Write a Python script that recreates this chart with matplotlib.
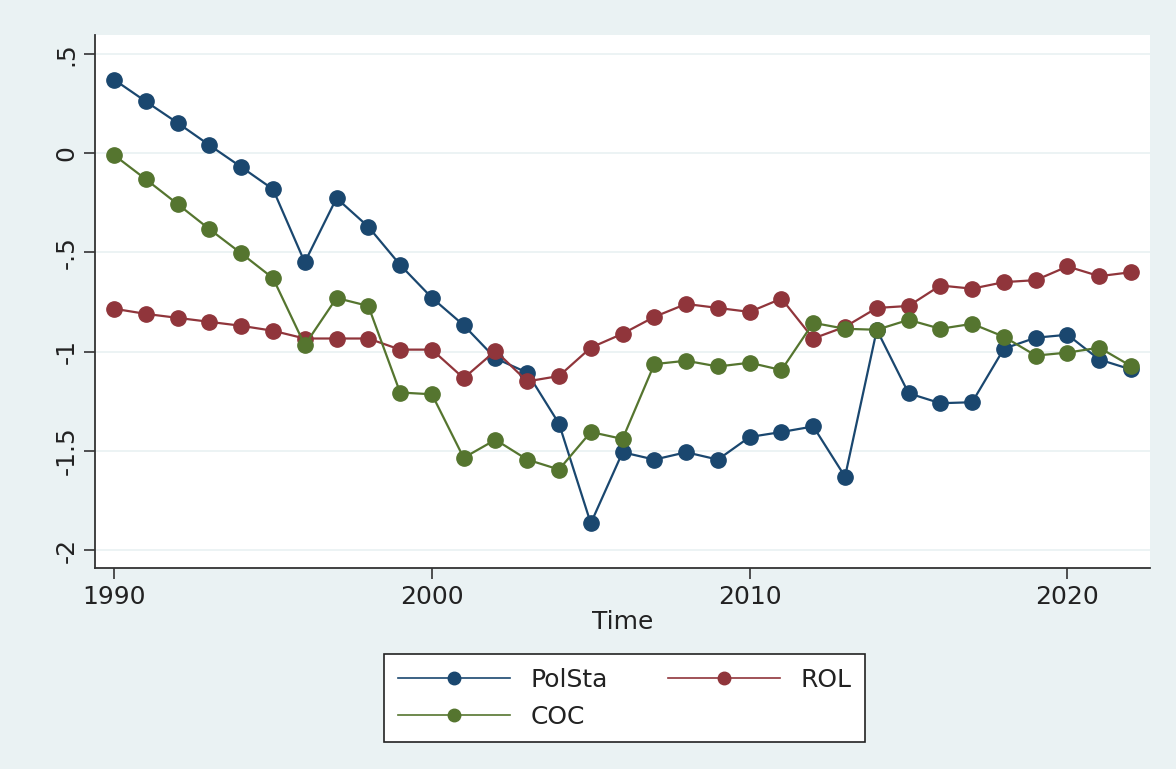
import matplotlib.pyplot as plt

# Years and series values
years = list(range(1990, 2023))

polsta = [0.37, 0.26, 0.152, 0.04, -0.07, -0.182, -0.55, -0.227, -0.371, -0.563,
          -0.729, -0.867, -1.034, -1.106, -1.363, -1.865, -1.507, -1.544, -1.507, -1.544,
          -1.43, -1.405, -1.377, -1.63, -0.89, -1.21, -1.26, -1.255, -0.985, -0.93,
          -0.915, -1.04, -1.09]

rol = [-0.784, -0.81, -0.83, -0.85, -0.87, -0.895, -0.934, -0.934, -0.934, -0.99,
       -0.99, -1.134, -0.996, -1.15, -1.123, -0.98, -0.91, -0.825, -0.76, -0.78,
       -0.80, -0.733, -0.934, -0.875, -0.78, -0.77, -0.667, -0.683, -0.65, -0.64,
       -0.571, -0.62, -0.60]

coc = [-0.01, -0.132, -0.257, -0.383, -0.505, -0.63, -0.967, -0.73, -0.77, -1.206,
       -1.215, -1.535, -1.444, -1.544, -1.594, -1.405, -1.44, -1.063, -1.046, -1.075,
       -1.056, -1.093, -0.855, -0.885, -0.89, -0.84, -0.885, -0.86, -0.925, -1.02,
       -1.005, -0.98, -1.073]

yticks = [0.5, 0, -0.5, -1, -1.5, -2]
ytick_labels = ['.5', '0', '-.5', '-1', '-1.5', '-2']
xticks = [1990, 2000, 2010, 2020]

colors = {'PolSta': '#1A476F', 'ROL': '#90353B', 'COC': '#55752F'}
bg = '#EAF2F3'
fs = 18

plt.rcParams['font.family'] = ['DejaVu Sans']
fig = plt.figure(figsize=(11.76, 7.69), dpi=100, facecolor=bg)
ax = fig.add_axes([0.0808, 0.2614, 0.8972, 0.6931])
ax.set_facecolor('white')

h1, = ax.plot(years, polsta, '-o', color=colors['PolSta'], lw=1.6, ms=11, label='PolSta', zorder=3)
h2, = ax.plot(years, rol, '-o', color=colors['ROL'], lw=1.6, ms=11, label='ROL', zorder=3)
h3, = ax.plot(years, coc, '-o', color=colors['COC'], lw=1.6, ms=11, label='COC', zorder=3)

ax.set_xlim(1989.4, 2022.6)
ax.set_ylim(-2.09, 0.595)
ax.set_yticks(yticks)
ax.set_yticklabels(ytick_labels, rotation=90, va='center', fontsize=fs)
ax.set_xticks(xticks)
ax.set_xticklabels([str(x) for x in xticks], fontsize=fs)
ax.tick_params(length=8, width=1.2, color='#333333', labelcolor='#222222', pad=4)
ax.yaxis.grid(True, color='#EAF2F3', lw=1.3)
ax.set_axisbelow(True)

for s in ['top', 'right']:
    ax.spines[s].set_visible(False)
for s in ['left', 'bottom']:
    ax.spines[s].set_color('#333333')
    ax.spines[s].set_linewidth(1.3)

ax.set_xlabel('Time', fontsize=fs, color='#222222', labelpad=1)

leg = fig.legend([h1, h3, h2], ['PolSta', 'COC', 'ROL'], ncol=2, loc='upper center',
                 bbox_to_anchor=(0.531, 0.149), fancybox=False, edgecolor='#222222',
                 framealpha=1, handlelength=4.5, columnspacing=2.4, handletextpad=0.8,
                 borderpad=0.55, borderaxespad=0, labelspacing=0.5,
                 prop={'size': fs})
leg.get_frame().set_linewidth(1.2)
for t in leg.get_texts():
    t.set_color('#222222')
for line in leg.get_lines():
    line.set_markersize(9)
    line.set_linewidth(1.2)

fig.savefig('out.png', dpi=100, facecolor=bg)
